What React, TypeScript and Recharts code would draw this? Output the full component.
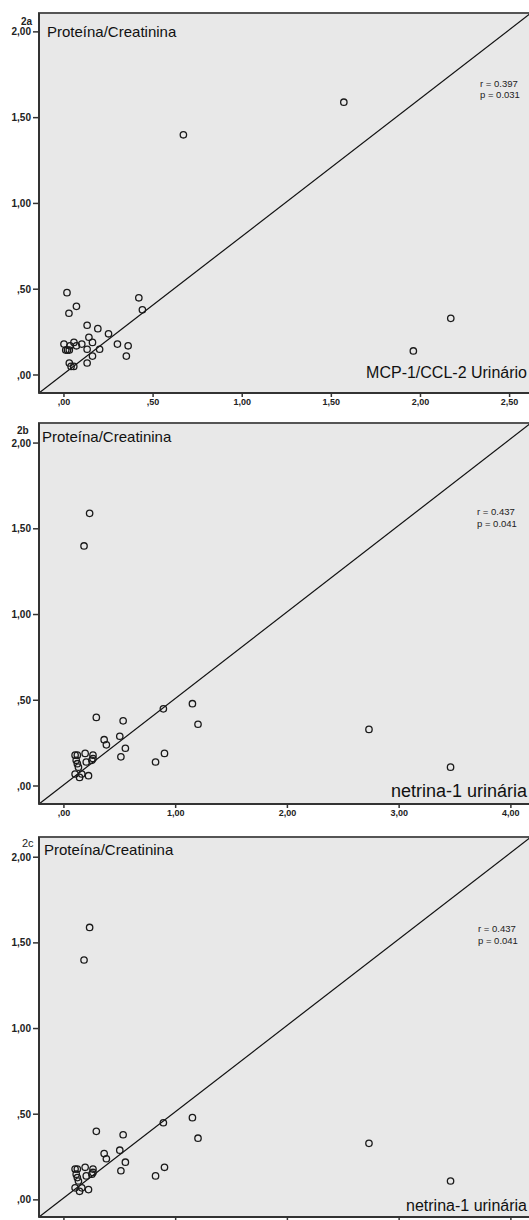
import React from "react";
import {
  ScatterChart,
  Scatter,
  XAxis,
  YAxis,
  ReferenceArea,
  ReferenceLine,
} from "recharts";

// Panel 2a: MCP-1/CCL-2 urinário vs proteína/creatinina
const mcpX = [0.017, 0.07, 0.028, 0.42, 0.44, 0.13, 0.19, 0.25, 0.14, 0.16, 0.0, 0.056, 0.034, 0.07, 0.1, 0.3, 0.36, 0.13, 0.2, 0.01, 0.02, 0.03, 0.16, 0.35, 0.03, 0.13, 0.04, 0.055, 0.67, 1.57, 2.17, 1.96];
const mcpY = [0.48, 0.4, 0.36, 0.45, 0.38, 0.29, 0.27, 0.24, 0.22, 0.19, 0.18, 0.19, 0.17, 0.17, 0.18, 0.18, 0.17, 0.15, 0.15, 0.145, 0.145, 0.145, 0.11, 0.11, 0.07, 0.07, 0.05, 0.05, 1.4, 1.59, 0.33, 0.14];

// Panels 2b / 2c: netrina-1 urinária vs proteína/creatinina
const netX = [0.29, 0.53, 0.89, 1.15, 1.2, 0.36, 0.38, 0.5, 0.55, 0.51, 0.82, 0.9, 0.1, 0.12, 0.19, 0.26, 0.26, 0.11, 0.2, 0.25, 0.12, 0.13, 0.1, 0.16, 0.14, 0.22, 0.23, 0.18, 2.73, 3.46];
const netY = [0.4, 0.38, 0.45, 0.48, 0.36, 0.27, 0.24, 0.29, 0.22, 0.17, 0.14, 0.19, 0.18, 0.18, 0.19, 0.18, 0.16, 0.15, 0.14, 0.15, 0.13, 0.11, 0.07, 0.07, 0.05, 0.06, 1.59, 1.4, 0.33, 0.11];

const yTicks = [0, 0.5, 1, 1.5, 2];
const mcpTicks = [0, 0.5, 1, 1.5, 2, 2.5];
const netTicks = [0, 1, 2, 3, 4];

const fmt = (v: number) => {
  const s = v.toFixed(2).replace(".", ",");
  return s.startsWith("0") ? s.slice(1) : s;
};

const FONT = "'Liberation Sans', Arial, sans-serif";

const Circle = (p: any) => (
  <circle cx={p.cx} cy={p.cy} r={3.2} fill="none" stroke="#1a1a1a" strokeWidth={1.3} />
);

type PanelProps = {
  top: number;
  marginTop: number;
  xAxisHeight: number;
  xs: number[];
  ys: number[];
  xDomain: [number, number];
  yDomain: [number, number];
  xTicks: number[];
  showXLabels: boolean;
};

const Panel = ({ top, marginTop, xAxisHeight, xs, ys, xDomain, yDomain, xTicks, showXLabels }: PanelProps) => {
  const data = xs.map((x, i) => ({ x, y: ys[i] }));
  const xTick = showXLabels
    ? { fill: "#222", fontSize: 9, fontFamily: FONT, fontWeight: "bold" }
    : () => <g />;
  return (
    <div style={{ position: "absolute", left: 0, top }}>
      <ScatterChart width={531} height={420} margin={{ top: marginTop, right: 0, left: 0, bottom: 0 }}>
        <ReferenceArea
          x1={xDomain[0]}
          x2={xDomain[1]}
          y1={yDomain[0]}
          y2={yDomain[1]}
          fill="#e8e8e8"
          fillOpacity={1}
          stroke="#555"
          strokeWidth={2}
        />
        <XAxis
          type="number"
          dataKey="x"
          domain={xDomain}
          ticks={xTicks}
          allowDataOverflow
          height={xAxisHeight}
          tickFormatter={fmt}
          axisLine={{ stroke: "#333", strokeWidth: 2 }}
          tickLine={{ stroke: "#333", strokeWidth: 1.5 }}
          tickSize={4}
          tick={xTick as any}
        />
        <YAxis
          type="number"
          dataKey="y"
          domain={yDomain}
          ticks={yTicks}
          allowDataOverflow
          width={39}
          tickFormatter={fmt}
          axisLine={{ stroke: "#333", strokeWidth: 2 }}
          tickLine={{ stroke: "#333", strokeWidth: 1.5 }}
          tickSize={6}
          tickMargin={2}
          tick={{ fill: "#222", fontSize: 10, fontFamily: FONT, fontWeight: "bold" }}
        />
        <ReferenceLine
          segment={[
            { x: xDomain[0], y: yDomain[0] },
            { x: xDomain[1], y: yDomain[1] },
          ]}
          stroke="#111"
          strokeWidth={1.2}
          ifOverflow="visible"
        />
        <Scatter data={data} shape={Circle} isAnimationActive={false} />
      </ScatterChart>
    </div>
  );
};

export default function App() {
  return (
    <div
      style={{
        position: "absolute",
        left: 0,
        top: 0,
        width: 529,
        height: 1220,
        overflow: "hidden",
        background: "#fff",
      }}
    >
      <Panel
        top={0}
        marginTop={13}
        xAxisHeight={27}
        xs={mcpX}
        ys={mcpY}
        xDomain={[-0.14, 2.62]}
        yDomain={[-0.105, 2.11]}
        xTicks={mcpTicks}
        showXLabels={true}
      />
      <Panel
        top={410}
        marginTop={13}
        xAxisHeight={26}
        xs={netX}
        ys={netY}
        xDomain={[-0.223, 4.18]}
        yDomain={[-0.105, 2.117]}
        xTicks={netTicks}
        showXLabels={true}
      />
      <Panel
        top={820}
        marginTop={17}
        xAxisHeight={23}
        xs={netX}
        ys={netY}
        xDomain={[-0.223, 4.18]}
        yDomain={[-0.1, 2.118]}
        xTicks={netTicks}
        showXLabels={false}
      />
      <svg
        width={529}
        height={1220}
        style={{ position: "absolute", left: 0, top: 0, pointerEvents: "none" }}
        fontFamily={FONT}
      >
        <text x={21} y={25} fontSize={10} fontWeight="bold" fill="#222">2a</text>
        <text x={17} y={434} fontSize={10} fontWeight="bold" fill="#222">2b</text>
        <text x={22} y={847} fontSize={11} fill="#222">2c</text>

        <text x={47} y={37} fontSize={15} fill="#111">Proteína/Creatinina</text>
        <text x={42} y={442} fontSize={15} fill="#111">Proteína/Creatinina</text>
        <text x={44} y={855} fontSize={15} fill="#111">Proteína/Creatinina</text>

        <text x={480} y={87} fontSize={9.5} fill="#222">r = 0.397</text>
        <text x={480} y={98} fontSize={9.5} fill="#222">p = 0.031</text>
        <text x={477} y={515} fontSize={9.5} fill="#222">r = 0.437</text>
        <text x={477} y={527} fontSize={9.5} fill="#222">p = 0.041</text>
        <text x={478} y={932} fontSize={9.5} fill="#222">r = 0.437</text>
        <text x={478} y={944} fontSize={9.5} fill="#222">p = 0.041</text>

        <text x={527} y={378} fontSize={16} fill="#111" textAnchor="end">MCP-1/CCL-2 Urinário</text>
        <text x={527} y={797} fontSize={18} fill="#111" textAnchor="end">netrina-1 urinária</text>
        <text x={527} y={1211} fontSize={16} fill="#111" textAnchor="end">netrina-1 urinária</text>
      </svg>
    </div>
  );
}
